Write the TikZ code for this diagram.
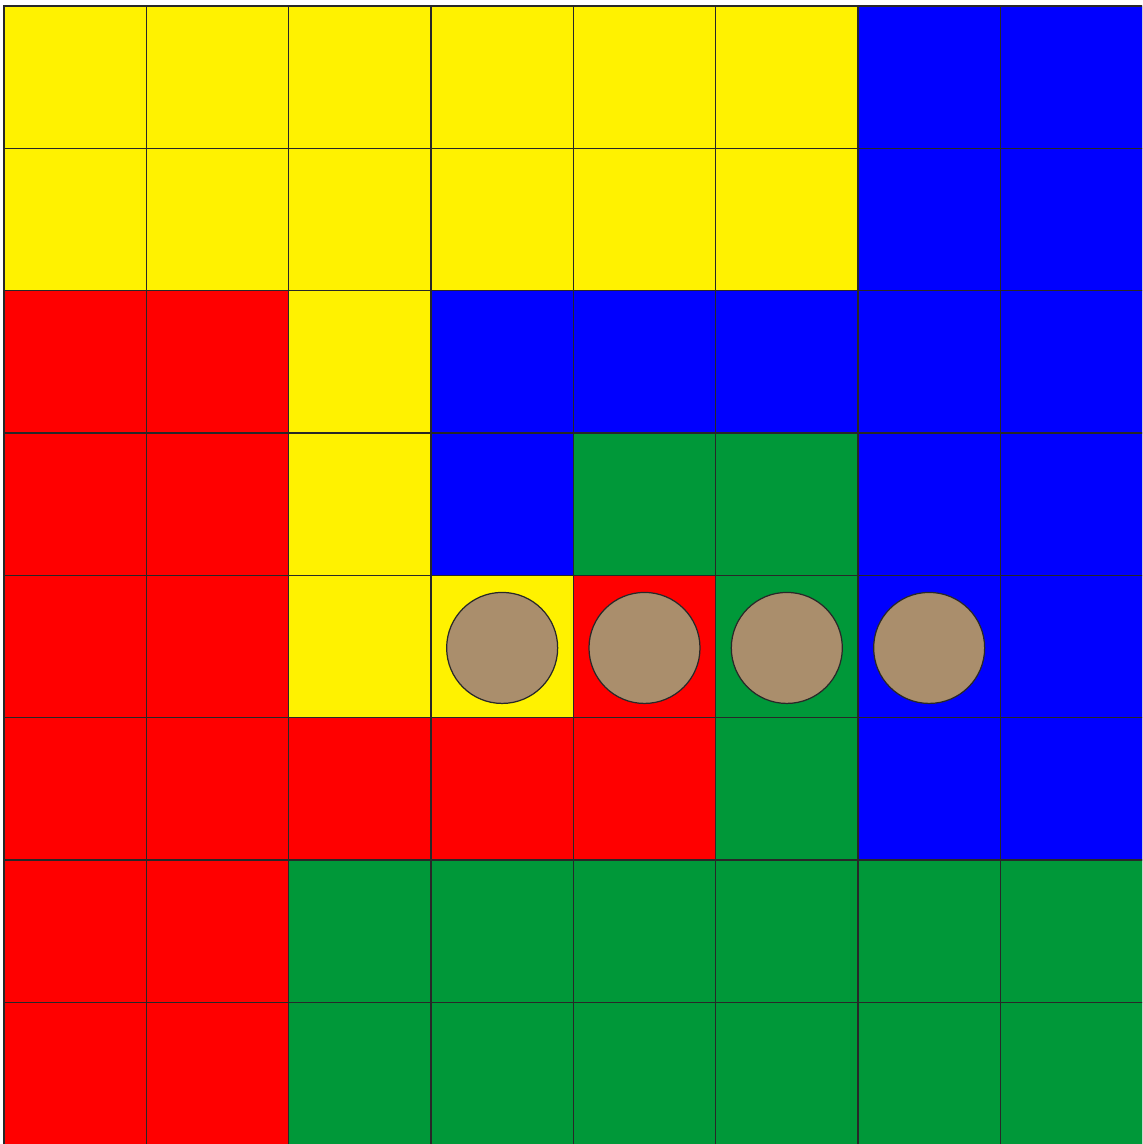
\documentclass[tikz,border=0pt]{standalone}
\usepackage{tikz}

\definecolor{cellY}{RGB}{255,242,0}
\definecolor{cellB}{RGB}{0,0,255}
\definecolor{cellR}{RGB}{255,0,0}
\definecolor{cellG}{RGB}{0,152,57}
\definecolor{pawn}{RGB}{170,142,108}
\definecolor{gridline}{RGB}{40,40,40}

\begin{document}
\begin{tikzpicture}[
    x=1.4233cm, y=-1.4233cm,
    cell/.style={fill=cell#1, draw=gridline, line width=0.35pt},
    token/.style={fill=pawn, draw=gridline, line width=0.35pt}
]

\useasboundingbox (-0.0281,-0.0422) rectangle (7.9955,7.9954);
\clip (-0.0281,-0.0422) rectangle (7.9955,7.9954);

% board, row by row from the top
\foreach \row [count=\j from 0] in {
    {Y,Y,Y,Y,Y,Y,B,B},
    {Y,Y,Y,Y,Y,Y,B,B},
    {R,R,Y,B,B,B,B,B},
    {R,R,Y,B,G,G,B,B},
    {R,R,Y,Y,R,G,B,B},
    {R,R,R,R,R,G,B,B},
    {R,R,G,G,G,G,G,G},
    {R,R,G,G,G,G,G,G}}
{
    \foreach \c [count=\i from 0] in \row
        \filldraw[cell=\c] (\i,\j) rectangle ++(1,1);
}

% tokens
\foreach \i in {3,...,6}
    \filldraw[token] (\i+0.5,4.51) circle (0.39);

\end{tikzpicture}
\end{document}
